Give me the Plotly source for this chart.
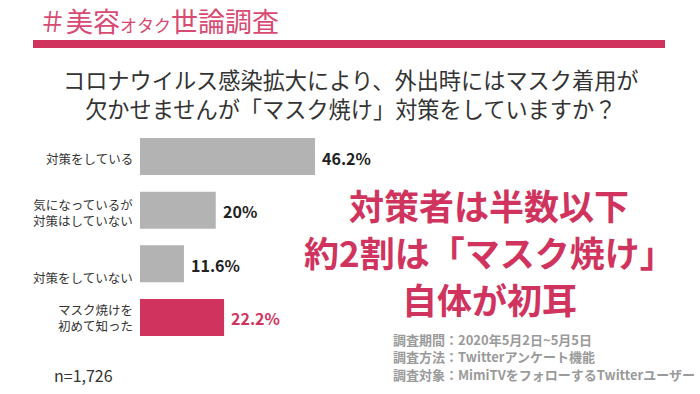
import plotly.graph_objects as go

# ---- data ----
categories = ["対策をしている", "気になっているが<br>対策はしていない", "対策をしていない", "マスク焼けを<br>初めて知った"]
values = [46.2, 20, 11.6, 22.2]
value_labels = ["46.2%", "20%", "11.6%", "22.2%"]
header_text = "＃美容<span style='font-size:17px'>オタク</span>世論調査"
title_lines = ["コロナウイルス感染拡大により、外出時にはマスク着用が", "欠かせませんが「マスク焼け」対策をしていますか？"]
headline_lines = ["対策者は半数以下", "約2割は「マスク焼け」", "自体が初耳"]
footer_lines = ["調査期間：2020年5月2日~5月5日", "調査方法：Twitterアンケート機能", "調査対象：MimiTVをフォローするTwitterユーザー"]
n_text = "n=1,726"

# ---- style ----
W, H = 700, 394
PINK = "#d0345e"
GRAY = "#b3b3b3"
FONT = "Noto Sans CJK JP"
bar_colors = [GRAY, GRAY, GRAY, PINK]
label_colors = ["#222222", "#222222", "#222222", PINK]
cat_yshift = [-2, -2, -14, 0]
footer_y = [339, 356, 374]
headline_y = [205, 251, 298]

def py(px):
    return 1 - px / H

fig = go.Figure()
fig.add_trace(go.Bar(
    x=values, y=categories, orientation="h",
    marker=dict(color=bar_colors, line=dict(width=0)),
    hoverinfo="skip",
))

px_per_unit = 175 / 46.2
x_left = 140
fig.update_layout(
    width=W, height=H,
    margin=dict(l=0, r=0, t=0, b=0),
    paper_bgcolor="white", plot_bgcolor="white",
    showlegend=False,
    bargap=0.31,
    font=dict(family=FONT),
    xaxis=dict(domain=[x_left / W, 1], range=[0, (W - x_left) / px_per_unit],
               visible=False, fixedrange=True),
    yaxis=dict(domain=[py(344.3), py(129.7)], autorange="reversed",
               showticklabels=False, showgrid=False, zeroline=False, showline=False,
               fixedrange=True),
)

ann = []
# category labels
for c, ys in zip(categories, cat_yshift):
    ann.append(dict(x=135 / W, xref="paper", y=c, yref="y", text=c, showarrow=False,
                    xanchor="right", yanchor="middle", align="right", yshift=ys,
                    font=dict(size=12.5, color="#333333", family=FONT)))
# value labels
for c, v, t, col in zip(categories, values, value_labels, label_colors):
    ann.append(dict(x=v, xref="x", y=c, yref="y", text="<b>" + t + "</b>", showarrow=False,
                    xanchor="left", yanchor="middle", xshift=5, yshift=-1,
                    font=dict(size=16, color=col, family=FONT)))
# header
ann.append(dict(x=37 / W, xref="paper", y=py(21), yref="paper", text=header_text, showarrow=False,
                xanchor="left", yanchor="middle", font=dict(size=27, color="#d84a72", family=FONT)))
# title
ann.append(dict(x=351 / W, xref="paper", y=py(93), yref="paper", text="<br>".join(title_lines),
                showarrow=False, xanchor="center", yanchor="middle", align="center",
                font=dict(size=22.2, color="#333333", family=FONT)))
# headline (one annotation per line)
for s, yy in zip(headline_lines, headline_y):
    ann.append(dict(x=489 / W, xref="paper", y=py(yy), yref="paper",
                    text="<b>" + s + "</b>",
                    showarrow=False, xanchor="center", yanchor="middle", align="center",
                    font=dict(size=35, color=PINK, family=FONT)))
# footer
for s, yy in zip(footer_lines, footer_y):
    ann.append(dict(x=391 / W, xref="paper", y=py(yy), yref="paper",
                    text="<b>" + s + "</b>",
                    showarrow=False, xanchor="left", yanchor="middle", align="left",
                    font=dict(size=13, color="#9a9a9a", family=FONT)))
# n
ann.append(dict(x=52 / W, xref="paper", y=py(375), yref="paper", text=n_text, showarrow=False,
                xanchor="left", yanchor="middle", font=dict(size=16, color="#333333", family=FONT)))
fig.update_layout(annotations=ann)

# pink header rule
fig.add_shape(type="rect", xref="paper", yref="paper",
              x0=33 / W, x1=665 / W, y0=py(48), y1=py(40),
              fillcolor=PINK, line=dict(width=0), layer="above")

fig.write_html("out.html", config={"displayModeBar": False},
               post_script="document.body.style.margin='0';")
